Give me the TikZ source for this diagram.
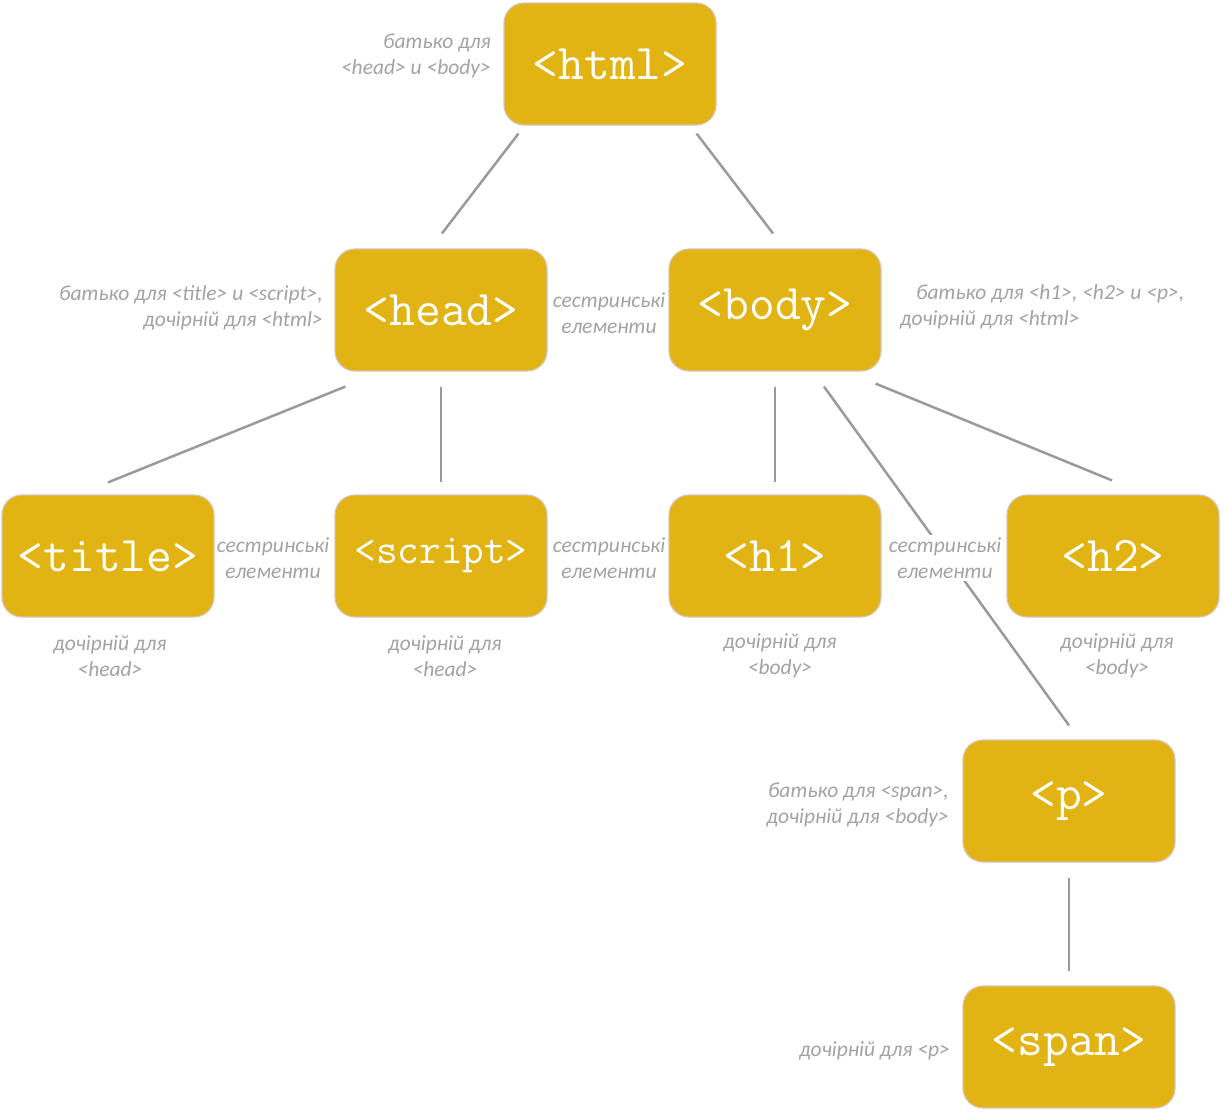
\documentclass[tikz,border=0pt]{standalone}
\usepackage{fontspec}
\setmainfont{Carlito}
\definecolor{boxfill}{HTML}{E1B413}
\definecolor{boxborder}{HTML}{D9C3B6}
\definecolor{lblgray}{HTML}{A3A3A3}
\definecolor{linegray}{HTML}{9A9A9A}
\begin{document}
\begin{tikzpicture}[x=1pt,y=-1pt,
  tag/.style={draw=boxborder, line width=1.2pt, fill=boxfill, rounded corners=20pt,
    minimum width=212pt, minimum height=122pt, inner sep=0pt, text=white,
    font=\ttfamily\fontsize{50}{50}\selectfont},
  lbl/.style={text=lblgray, font=\itshape\fontsize{21.5}{26}\selectfont, inner sep=0pt},
  conn/.style={draw=linegray, line width=2.5pt}]
\useasboundingbox (0,0) rectangle (1224,1114);
\fill[white] (0,0) rectangle (1224,1114);

% boxes
\node[tag] (html)   at (610,64)   {<html>};
\node[tag] (head)   at (441,310)  {<head>};
\node[tag] (body)   at (775,310)  {<body>};
\node[tag] (title)  at (108,556)  {<title>};
\node[tag, font=\ttfamily\fontsize{42}{42}\selectfont] (script) at (441,556) {<script>};
\node[tag] (h1)     at (775,556)  {<h1>};
\node[tag] (h2)     at (1113,556) {<h2>};
\node[tag] (p)      at (1069,801) {<p>};
\node[tag] (span)   at (1069,1047) {<span>};

% connectors
\draw[conn] ([shift={(15,8)}]html.south west) -- ([shift={(1,-15)}]head.north);
\draw[conn] ([shift={(-20,8)}]html.south east) -- ([shift={(-2,-15)}]body.north);
\draw[conn] ([shift={(11,15)}]head.south west) -- ([shift={(0,-12)}]title.north);
\draw[conn] ([shift={(0,15)}]head.south) -- ([shift={(0,-12)}]script.north);
\draw[conn] ([shift={(0,15)}]body.south) -- ([shift={(0,-12)}]h1.north);
\draw[conn] ([shift={(-6,12)}]body.south east) -- ([shift={(-1,-14)}]h2.north);
\draw[conn] ([shift={(49,15)}]body.south) -- ([shift={(0,-14)}]p.north);
\draw[conn] ([shift={(0,15)}]p.south) -- ([shift={(0,-14)}]span.north);

% labels
\node[lbl, align=right, anchor=east] (lhtml) at (491,56) {батько  для\\<head> и <body>};
\node[lbl, align=right, anchor=east] (lhead) at (323,308) {батько  для <title> и <script>,\\дочірній для <html>};
\node[lbl, align=left, anchor=west] (lbody) at (900,307) {\hspace{16pt}батько  для <h1>, <h2> и <p>,\\дочірній  для <html>};
\node[lbl, align=center] (sib1) at (609,313) {сестринські\\елементи};
\node[lbl, align=center] (sib2) at (273,558) {сестринські\\елементи};
\node[lbl, align=center] (sib3) at (609,558) {сестринські\\елементи};
\node[lbl, align=center, fill=white, inner sep=3pt] (sib4) at (945,558) {сестринські\\елементи};
\node[lbl, align=center] (ctitle)  at (110,656) {дочірній  для\\<head>};
\node[lbl, align=center] (cscript) at (445,656) {дочірній  для\\<head>};
\node[lbl, align=center] (ch1)     at (780,656) {дочірній для\\<body>};
\node[lbl, align=center] (ch2)     at (1117,656) {дочірній  для\\<body>};
\node[lbl, align=right, anchor=east] (lp) at (949,805) {батько  для <span>,\\дочірній  для <body>};
\node[lbl, anchor=east] (lspan) at (950,1051) {дочірній  для <p>};
\end{tikzpicture}
\end{document}
